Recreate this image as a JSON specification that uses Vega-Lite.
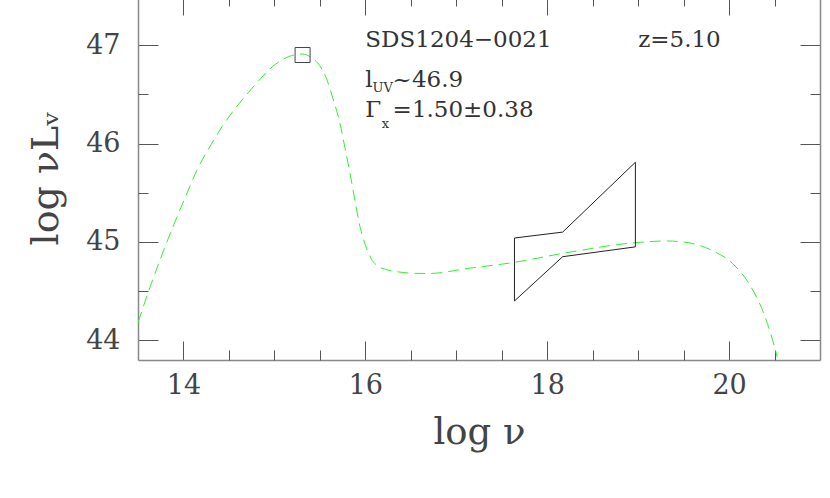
{
  "$schema": "https://vega.github.io/schema/vega-lite/v6.json",
  "width": 682,
  "height": 364,
  "autosize": {"type": "none"},
  "padding": {"left": 138, "top": -4, "right": 10, "bottom": 138},
  "background": "white",
  "config": {
    "view": {"stroke": null},
    "font": "DejaVu Serif",
    "axis": {"grid": false, "labelFont": "DejaVu Serif", "titleFont": "DejaVu Serif", "domainColor": "#888888", "domainWidth": 1.5, "tickColor": "#555555", "tickWidth": 1, "labelColor": "#444444", "titleColor": "#444444", "labelFontWeight": "normal", "titleFontWeight": "normal"}
  },
  "datasets": {
    "sed": [
      {"lognu": 13.500, "lognuL": 44.18},
      {"lognu": 13.632, "lognuL": 44.54},
      {"lognu": 13.764, "lognuL": 44.87},
      {"lognu": 13.896, "lognuL": 45.18},
      {"lognu": 14.027, "lognuL": 45.47},
      {"lognu": 14.159, "lognuL": 45.75},
      {"lognu": 14.291, "lognuL": 45.97},
      {"lognu": 14.423, "lognuL": 46.17},
      {"lognu": 14.555, "lognuL": 46.34},
      {"lognu": 14.687, "lognuL": 46.49},
      {"lognu": 14.819, "lognuL": 46.63},
      {"lognu": 14.951, "lognuL": 46.76},
      {"lognu": 15.082, "lognuL": 46.85},
      {"lognu": 15.214, "lognuL": 46.90},
      {"lognu": 15.313, "lognuL": 46.91},
      {"lognu": 15.412, "lognuL": 46.87},
      {"lognu": 15.500, "lognuL": 46.79},
      {"lognu": 15.577, "lognuL": 46.65},
      {"lognu": 15.643, "lognuL": 46.46},
      {"lognu": 15.720, "lognuL": 46.21},
      {"lognu": 15.775, "lognuL": 45.96},
      {"lognu": 15.831, "lognuL": 45.70},
      {"lognu": 15.886, "lognuL": 45.42},
      {"lognu": 15.940, "lognuL": 45.16},
      {"lognu": 16.016, "lognuL": 44.93},
      {"lognu": 16.104, "lognuL": 44.78},
      {"lognu": 16.27, "lognuL": 44.71},
      {"lognu": 16.60, "lognuL": 44.68},
      {"lognu": 16.71, "lognuL": 44.68},
      {"lognu": 17.12, "lognuL": 44.73},
      {"lognu": 17.62, "lognuL": 44.79},
      {"lognu": 18.21, "lognuL": 44.89},
      {"lognu": 18.94, "lognuL": 44.99},
      {"lognu": 19.31, "lognuL": 45.01},
      {"lognu": 19.57, "lognuL": 44.99},
      {"lognu": 19.82, "lognuL": 44.91},
      {"lognu": 20.04, "lognuL": 44.78},
      {"lognu": 20.23, "lognuL": 44.56},
      {"lognu": 20.37, "lognuL": 44.30},
      {"lognu": 20.48, "lognuL": 44.00},
      {"lognu": 20.53, "lognuL": 43.83}
    ],
    "bowtie": [
      {"order": 1, "lognu": 17.64, "lognuL": 45.04},
      {"order": 2, "lognu": 18.17, "lognuL": 45.10},
      {"order": 3, "lognu": 18.97, "lognuL": 45.81},
      {"order": 4, "lognu": 18.97, "lognuL": 44.95},
      {"order": 5, "lognu": 18.17, "lognuL": 44.85},
      {"order": 6, "lognu": 17.64, "lognuL": 44.40},
      {"order": 7, "lognu": 17.64, "lognuL": 45.04}
    ],
    "uv": [{"lognu": 15.31, "lognuL": 46.90}],
    "labels": [
      {"lognu": 16.0, "lognuL": 46.98, "text": "SDS1204−0021"},
      {"lognu": 19.0, "lognuL": 46.98, "text": "z=5.10"},
      {"lognu": 16.0, "lognuL": 46.57, "text": "l"},
      {"lognu": 16.30, "lognuL": 46.57, "text": "~46.9"},
      {"lognu": 16.0, "lognuL": 46.27, "text": "Γ"},
      {"lognu": 16.30, "lognuL": 46.27, "text": "=1.50±0.38"}
    ],
    "subs": [
      {"lognu": 16.08, "lognuL": 46.52, "text": "UV"},
      {"lognu": 16.18, "lognuL": 46.16, "text": "x"}
    ]
  },
  "resolve": {"axis": {"x": "independent", "y": "independent"}},
  "layer": [
    {
      "data": {"name": "sed"},
      "mark": {"type": "line", "color": "#33ee33", "strokeWidth": 1, "strokeDash": [11, 6], "interpolate": "monotone", "clip": true},
      "encoding": {
        "x": {"field": "lognu", "type": "quantitative", "scale": {"domain": [13.5, 21], "nice": false, "zero": false},
          "axis": {"orient": "bottom", "values": [14, 16, 18, 20], "tickSize": -19, "labelPadding": 31, "labelFontSize": 27, "format": "d", "title": "log  ν", "titleFontSize": 37, "titlePadding": 16, "labelFlush": false}},
        "y": {"field": "lognuL", "type": "quantitative", "scale": {"domain": [43.8, 47.5], "nice": false, "zero": false},
          "axis": {"orient": "left", "values": [44, 45, 46, 47], "tickSize": -20, "labelPadding": 38, "labelFontSize": 27, "format": "d", "title": "log νLᵥ", "titleFontSize": 38, "titlePadding": 20, "labelFlush": false}}
      }
    },
    {
      "data": {"name": "bowtie"},
      "mark": {"type": "line", "color": "#222222", "strokeWidth": 1},
      "encoding": {
        "order": {"field": "order", "type": "quantitative"},
        "x": {"field": "lognu", "type": "quantitative",
          "axis": {"orient": "top", "values": [14, 16, 18, 20], "tickSize": -19, "labels": false, "title": null}},
        "y": {"field": "lognuL", "type": "quantitative",
          "axis": {"orient": "right", "values": [44, 45, 46, 47], "tickSize": -20, "labels": false, "title": null}}
      }
    },
    {
      "data": {"name": "uv"},
      "mark": {"type": "point", "shape": "square", "size": 225, "filled": false, "stroke": "#444444", "strokeWidth": 1, "opacity": 1},
      "encoding": {
        "x": {"field": "lognu", "type": "quantitative",
          "axis": {"orient": "bottom", "values": [14.5, 15, 15.5, 16.5, 17, 17.5, 18.5, 19, 19.5, 20.5], "tickSize": -10, "labels": false, "domain": false, "title": null}},
        "y": {"field": "lognuL", "type": "quantitative",
          "axis": {"orient": "left", "values": [44.5, 45.5, 46.5], "tickSize": -10, "labels": false, "domain": false, "title": null}}
      }
    },
    {
      "data": {"name": "labels"},
      "mark": {"type": "text", "align": "left", "baseline": "alphabetic", "fontSize": 23, "font": "DejaVu Serif", "color": "#333333"},
      "encoding": {
        "text": {"field": "text"},
        "x": {"field": "lognu", "type": "quantitative",
          "axis": {"orient": "top", "values": [14.5, 15, 15.5, 16.5, 17, 17.5, 18.5, 19, 19.5, 20.5], "tickSize": -10, "labels": false, "domain": false, "title": null}},
        "y": {"field": "lognuL", "type": "quantitative",
          "axis": {"orient": "right", "values": [44.5, 45.5, 46.5], "tickSize": -10, "labels": false, "domain": false, "title": null}}
      }
    },
    {
      "data": {"name": "subs"},
      "mark": {"type": "text", "align": "left", "baseline": "alphabetic", "fontSize": 13, "font": "DejaVu Serif", "color": "#333333"},
      "encoding": {
        "text": {"field": "text"},
        "x": {"field": "lognu", "type": "quantitative", "axis": null},
        "y": {"field": "lognuL", "type": "quantitative", "axis": null}
      }
    }
  ]
}
